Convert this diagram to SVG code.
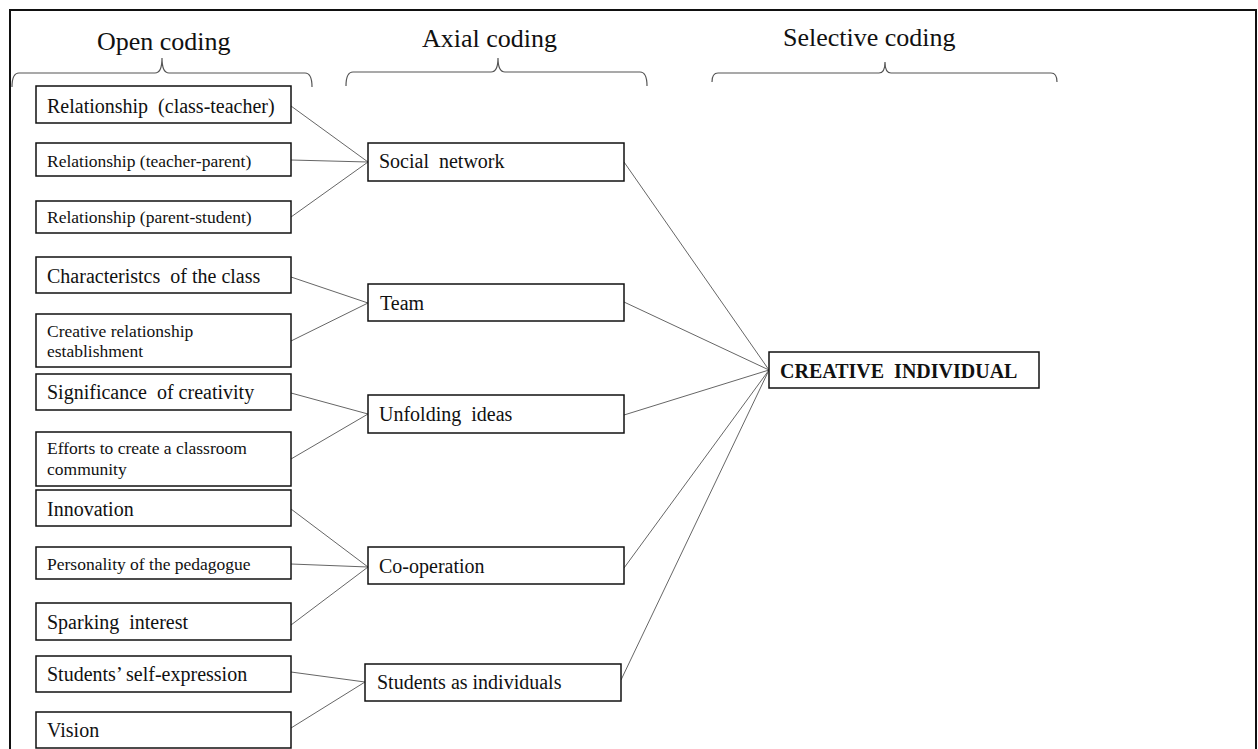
<svg xmlns="http://www.w3.org/2000/svg" width="1258" height="749" viewBox="0 0 1258 749">
  <style>
    text { font-family: "Liberation Serif", "Times New Roman", serif; fill: #111; white-space: pre; }
    .head { font-size: 26px; }
    .lg { font-size: 20px; }
    .sm { font-size: 17.5px; }
    .bold { font-size: 20px; font-weight: bold; }
    .box { fill: #fff; stroke: #111; stroke-width: 1.5; }
    .brace { fill: none; stroke: #555; stroke-width: 1.2; }
    .link { fill: none; stroke: #666; stroke-width: 1; }
  </style>

  <rect x="0" y="0" width="1258" height="749" fill="#fff"/>

  <!-- outer frame -->
  <path d="M10,760 V10 H1256 V760" fill="none" stroke="#111" stroke-width="2"/>

  <!-- column headings with braces -->
  <g id="heading-open">
    <text class="head" x="97" y="50">Open coding</text>
    <path class="brace" d="M12,87 Q12,73 19,73 H155 Q162,73 162,58 Q162,73 169,73 H305 Q312,73 312,87"/>
  </g>
  <g id="heading-axial">
    <text class="head" x="422" y="47">Axial coding</text>
    <path class="brace" d="M346,86 Q346,72 353,72 H491 Q498,72 498,58 Q498,72 505,72 H640 Q647,72 647,86"/>
  </g>
  <g id="heading-selective">
    <text class="head" x="783" y="46">Selective coding</text>
    <path class="brace" d="M712,82 Q712,73 718,73 H879 Q885,73 885,62 Q885,73 891,73 H1051 Q1057,73 1057,82"/>
  </g>

  <!-- connectors -->
  <g id="connectors">
    <line class="link" x1="291" y1="106" x2="368" y2="162"/>
    <line class="link" x1="291" y1="160" x2="368" y2="162"/>
    <line class="link" x1="291" y1="217" x2="368" y2="162"/>

    <line class="link" x1="291" y1="277" x2="368" y2="303"/>
    <line class="link" x1="291" y1="341" x2="368" y2="303"/>

    <line class="link" x1="291" y1="393" x2="368" y2="414"/>
    <line class="link" x1="291" y1="459" x2="368" y2="414"/>

    <line class="link" x1="291" y1="509" x2="368" y2="567"/>
    <line class="link" x1="291" y1="564" x2="368" y2="567"/>
    <line class="link" x1="291" y1="625" x2="368" y2="567"/>

    <line class="link" x1="291" y1="672" x2="365" y2="682"/>
    <line class="link" x1="291" y1="728" x2="365" y2="682"/>

    <line class="link" x1="624" y1="162" x2="769" y2="370"/>
    <line class="link" x1="624" y1="302" x2="769" y2="370"/>
    <line class="link" x1="624" y1="415" x2="769" y2="370"/>
    <line class="link" x1="624" y1="568" x2="769" y2="370"/>
    <line class="link" x1="621" y1="680" x2="769" y2="370"/>
  </g>

  <!-- open codes -->
  <g id="rel-class-teacher">
    <rect class="box" x="36" y="86" width="255" height="37"/>
    <text class="lg" x="47" y="113">Relationship  (class-teacher)</text>
  </g>
  <g id="rel-teacher-parent">
    <rect class="box" x="36" y="143" width="255" height="33"/>
    <text class="sm" x="47" y="167">Relationship (teacher-parent)</text>
  </g>
  <g id="rel-parent-student">
    <rect class="box" x="36" y="201" width="255" height="32"/>
    <text class="sm" x="47" y="223">Relationship (parent-student)</text>
  </g>
  <g id="class-characteristics">
    <rect class="box" x="36" y="257" width="255" height="36"/>
    <text class="lg" x="47" y="283">Characteristcs  of the class</text>
  </g>
  <g id="creative-relationship">
    <rect class="box" x="36" y="314" width="255" height="53"/>
    <text class="sm" x="47" y="337">Creative relationship</text>
    <text class="sm" x="47" y="357">establishment</text>
  </g>
  <g id="significance">
    <rect class="box" x="36" y="374" width="255" height="36"/>
    <text class="lg" x="47" y="399">Significance  of creativity</text>
  </g>
  <g id="classroom-community">
    <rect class="box" x="36" y="432" width="255" height="54"/>
    <text class="sm" x="47" y="454">Efforts to create a classroom</text>
    <text class="sm" x="47" y="475">community</text>
  </g>
  <g id="innovation">
    <rect class="box" x="36" y="490" width="255" height="36"/>
    <text class="lg" x="47" y="516">Innovation</text>
  </g>
  <g id="pedagogue">
    <rect class="box" x="36" y="547" width="255" height="32"/>
    <text class="sm" x="47" y="570">Personality of the pedagogue</text>
  </g>
  <g id="sparking-interest">
    <rect class="box" x="36" y="603" width="255" height="37"/>
    <text class="lg" x="47" y="629">Sparking  interest</text>
  </g>
  <g id="self-expression">
    <rect class="box" x="36" y="656" width="255" height="36"/>
    <text class="lg" x="47" y="681">Students’ self-expression</text>
  </g>
  <g id="vision">
    <rect class="box" x="36" y="712" width="255" height="36"/>
    <text class="lg" x="47" y="737">Vision</text>
  </g>

  <!-- axial codes -->
  <g id="social-network">
    <rect class="box" x="368" y="143" width="256" height="38"/>
    <text class="lg" x="379" y="168">Social  network</text>
  </g>
  <g id="team">
    <rect class="box" x="368" y="284" width="256" height="37"/>
    <text class="lg" x="380" y="310">Team</text>
  </g>
  <g id="unfolding-ideas">
    <rect class="box" x="368" y="395" width="256" height="38"/>
    <text class="lg" x="379" y="421">Unfolding  ideas</text>
  </g>
  <g id="co-operation">
    <rect class="box" x="368" y="547" width="256" height="37"/>
    <text class="lg" x="379" y="573">Co-operation</text>
  </g>
  <g id="students-individuals">
    <rect class="box" x="365" y="664" width="256" height="37"/>
    <text class="lg" x="377" y="689">Students as individuals</text>
  </g>

  <!-- selective code -->
  <g id="creative-individual">
    <rect class="box" x="769" y="352" width="270" height="36"/>
    <text class="bold" x="780" y="378">CREATIVE  INDIVIDUAL</text>
  </g>
</svg>
